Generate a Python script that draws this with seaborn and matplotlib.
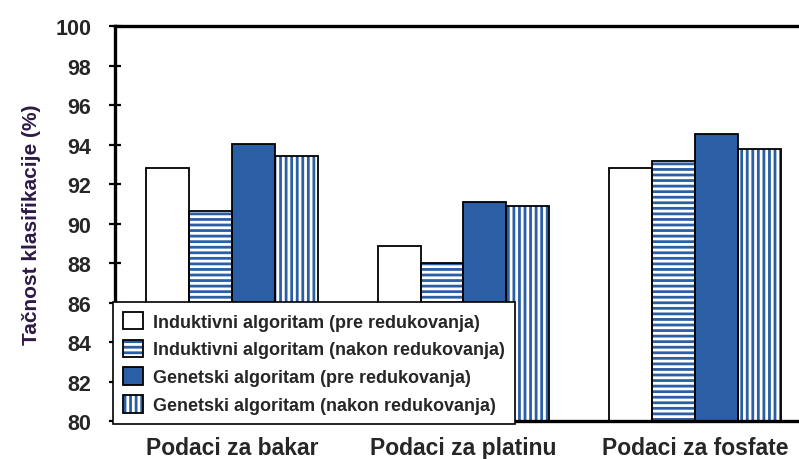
import matplotlib
matplotlib.use("Agg")
import matplotlib.pyplot as plt
import seaborn as sns
import pandas as pd
from matplotlib.patches import Patch, Rectangle

# Data
skupovi = ["Podaci za bakar", "Podaci za platinu", "Podaci za fosfate"]
serije = [
    "Induktivni algoritam (pre redukovanja)",
    "Induktivni algoritam (nakon redukovanja)",
    "Genetski algoritam (pre redukovanja)",
    "Genetski algoritam (nakon redukovanja)",
]
ind_pre = [92.8, 88.85, 92.8]
ind_nakon = [90.65, 88.0, 93.15]
gen_pre = [94.05, 91.1, 94.55]
gen_nakon = [93.4, 90.9, 93.75]
y_ticks = [80, 82, 84, 86, 88, 90, 92, 94, 96, 98, 100]

df = pd.DataFrame({
    "skup": skupovi * 4,
    "algoritam": sum([[s] * 3 for s in serije], []),
    "tacnost": ind_pre + ind_nakon + gen_pre + gen_nakon,
})

BLUE = "#2A5FA6"
fills = ["white", "white", BLUE, "white"]
hatches = [None, "---", None, "|||"]

sns.set_theme(style="white")
plt.rcParams["font.family"] = ["Liberation Sans", "DejaVu Sans"]
plt.rcParams["font.weight"] = "bold"
plt.rcParams["hatch.linewidth"] = 2.0

fig = plt.figure(figsize=(7.99, 4.60), dpi=100)
ax = fig.add_axes([0.1439, 0.0826, 0.8724, 0.8587])

# Fill layer: hatch lines take the edge colour, so use blue there
sns.barplot(data=df, x="skup", y="tacnost", hue="algoritam", hue_order=serije,
            order=skupovi, palette=fills, width=0.74, edgecolor=BLUE,
            linewidth=0, legend=False, ax=ax, saturation=1)

for cont, h in zip(ax.containers, hatches):
    for p in cont:
        if h:
            p.set_hatch(h)
        # black outline over each bar
        ax.add_patch(Rectangle(p.get_xy(), p.get_width(), p.get_height(),
                               fill=False, edgecolor="black", linewidth=1.3,
                               zorder=p.get_zorder() + 0.1))

ax.set_ylim(80, 100)
ax.set_xlim(-0.505, 2.505)
ax.set_yticks(y_ticks)
ax.set_yticklabels([str(t) for t in y_ticks], fontsize=15.5, fontweight="bold")
ax.set_xticks(range(len(skupovi)))
ax.set_xticklabels(skupovi, fontsize=16.5, fontweight="bold")
ax.set_xlabel("")
ax.set_ylabel("Tačnost klasifikacije (%)", fontsize=15, fontweight="bold",
              color="#2E1A47", labelpad=10)

for side in ["top", "left", "bottom"]:
    ax.spines[side].set_visible(True)
    ax.spines[side].set_color("black")
    ax.spines[side].set_linewidth(2.4)
ax.spines["right"].set_visible(False)

ax.tick_params(axis="y", direction="inout", length=8, width=1.6, color="black",
               left=True, pad=13)
ax.tick_params(axis="x", length=0, pad=11)

handles = []
for f, h in zip(fills, hatches):
    base = Patch(facecolor=f, edgecolor=BLUE, linewidth=0, hatch=h)
    outline = Patch(facecolor="none", edgecolor="black", linewidth=1.3)
    handles.append((base, outline))

leg = ax.legend(handles, serije, loc="lower left",
                bbox_to_anchor=(0.1414, 0.076), bbox_transform=fig.transFigure,
                borderaxespad=0, frameon=True, fancybox=False, fontsize=13,
                handlelength=1.1, handleheight=1.1, handletextpad=0.55,
                labelspacing=0.5, borderpad=0.55)
leg.get_frame().set_edgecolor("black")
leg.get_frame().set_linewidth(1.2)
leg.get_frame().set_alpha(1)
for t in leg.get_texts():
    t.set_fontweight("bold")

fig.savefig("out.png", dpi=100)
